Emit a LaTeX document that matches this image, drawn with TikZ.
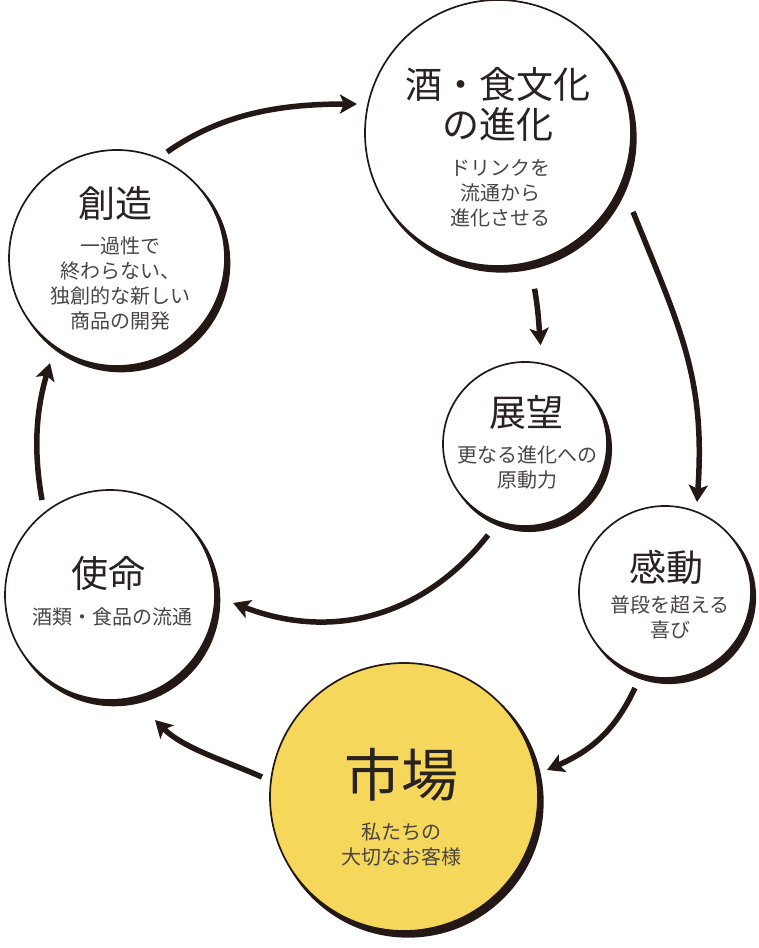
\documentclass[tikz,border=0pt]{standalone}
\usepackage{fontspec}
\setmainfont{Noto Sans CJK JP}
\usetikzlibrary{arrows.meta,calc,shadows}
\definecolor{ink}{HTML}{231815}
\definecolor{titink}{HTML}{2A2220}
\definecolor{subink}{HTML}{4A4544}
\definecolor{mkt}{HTML}{F4D75B}
\tikzset{
  circ/.style={circle, draw=ink, line width=1.7pt, inner sep=0pt, outer sep=0pt, fill=white,
    drop shadow={shadow xshift=4pt, shadow yshift=-5pt, shadow scale=1.012, fill=ink, opacity=1}},
  ttl/.style={text=titink, font=\fontsize{37}{40}\selectfont, align=center, inner sep=0pt},
  bigttl/.style={text=titink, font=\fontsize{57}{60}\selectfont, align=center, inner sep=0pt},
  subtxt/.style={text=subink, font=\fontsize{20}{25}\selectfont, align=center, inner sep=0pt},
  arr/.style={draw=ink, line width=5.5pt, -{Stealth[length=17pt,width=19pt,inset=4pt]}}
}
\begin{document}
\begin{tikzpicture}[x=1pt,y=1pt]
\useasboundingbox (0,0) rectangle (759,948);
\fill[white] (0,0) rectangle (759,948);

% circles
\node[circ, minimum size=216pt] (cre) at (117,690) {};
\node[circ, minimum size=266pt] (sake) at (498,815) {};
\node[circ, minimum size=164pt] (ten) at (525,504) {};
\node[circ, minimum size=172pt] (kan) at (665,356) {};
\node[circ, minimum size=210pt] (shi) at (110,353) {};
\node[circ, minimum size=268pt, fill=mkt] (ich) at (404,151) {};

% texts
\node[ttl] (creT) at (115,745) {創造};
\node[subtxt] (creS) at (120,665) {一過性で\\終わらない、\\独創的な新しい\\商品の開発};

\node[ttl] (sakeT) at (498,844) {酒・食文化\\の進化};
\node[subtxt] (sakeS) at (500,755) {ドリンクを\\流通から\\進化させる};

\node[ttl] (tenT) at (526,535) {展望};
\node[subtxt] (tenS) at (527,481) {更なる進化への\\原動力};

\node[ttl] (kanT) at (666,381) {感動};
\node[subtxt] (kanS) at (670,331) {普段を超える\\喜び};

\node[ttl] (shiT) at (108,375) {使命};
\node[subtxt] (shiS) at (112,331) {酒類・食品の流通};

\node[bigttl] (ichT) at (401,173) {市場};
\node[subtxt] (ichS) at (401,103) {私たちの\\大切なお客様};

% arrows
\draw[arr] ($(cre)+(64.7:117.2)$) .. controls +(35:65) and +(180:80) .. ($(sake)+(168.4:144)$);
\draw[arr] ($(sake)+(-30.3:156.4)$) .. controls +(-68:125) and +(86:125) .. ($(kan)+(70.4:95.5)$);
\draw[arr] ($(sake)+(-76.8:160)$) .. controls +(-80:22) and +(95:22) .. ($(ten)+(81:100)$);
\draw[arr] ($(ten)+(247.9:98.2)$) .. controls +(232:100) and +(-21:110) .. ($(shi)+(-3.7:123.3)$);
\draw[arr] ($(kan)+(-107.4:100.6)$) .. controls +(-115:45) and +(23.6:50) .. ($(ich)+(10.7:145.5)$);
\draw[arr] ($(ich)+(172:143.4)$) .. controls +(156:40) and +(-45:40) .. ($(shi)+(-70.2:132.9)$);
\draw[arr] ($(shi)+(125.6:116.8)$) .. controls +(100:50) and +(253.5:50) .. ($(cre)+(-122.5:124.6)$);
\end{tikzpicture}
\end{document}
